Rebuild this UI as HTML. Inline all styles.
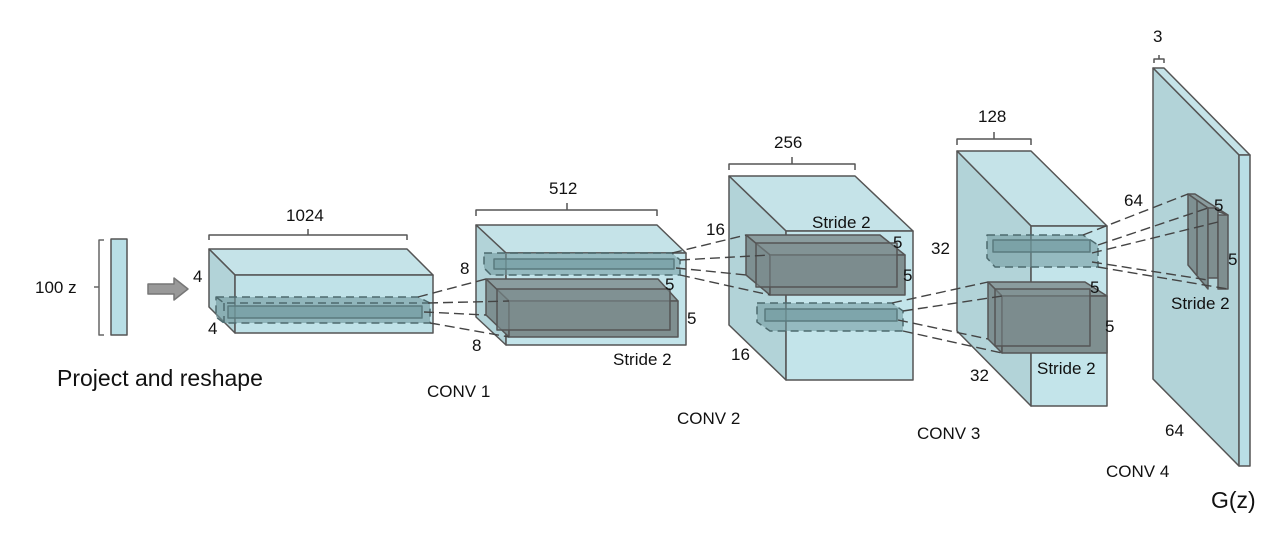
<!DOCTYPE html>
<html><head><meta charset="utf-8"><style>
html,body{margin:0;padding:0;background:#fff;width:1280px;height:551px;overflow:hidden}
svg{display:block}
text{font-family:"Liberation Sans",Arial,sans-serif;fill:#111}
</style></head><body>
<svg width="1280" height="551" viewBox="0 0 1280 551" xmlns="http://www.w3.org/2000/svg">
<g stroke="#555" stroke-width="1.5" stroke-linejoin="round">
<rect x="111" y="239" width="16" height="96" fill="#b9dfe6"/>
<path d="M104,240 h-5 v95 h5 M99,287 h-5" fill="none" stroke="#666"/>
<polygon points="148,284 174,284 174,278 188,289 174,300 174,294 148,294" fill="#999" stroke="#777"/>

<!-- Block 1 -->
<polygon points="209,249 407,249 433,275 235,275" fill="#c5e3e8"/>
<polygon points="209,249 235,275 235,333 209,307" fill="#b2d3d8"/>
<rect x="235" y="275" width="198" height="58" fill="#b9dfe6" fill-opacity="0.9"/>
<g fill="#6f979d" fill-opacity="0.6" stroke="#4d6a6e" stroke-dasharray="8,5">
<polygon points="216,297 418,297 430,303 430,323 224,323 216,317"/>
</g>
<rect x="228" y="306" width="194" height="12" fill="#6f979d" fill-opacity="0.6" stroke="#5a7a7e"/>
<path d="M216,297 l8,6 h206 M224,303 v20" fill="none" stroke="#4d6a6e" stroke-dasharray="8,5"/>
<path d="M209,240 v-5 h198 v5 M308,235 v-6" fill="none" stroke="#555"/>

<!-- Block 2 -->
<polygon points="476,225 657,225 686,253 506,253" fill="#c5e3e8"/>
<polygon points="476,225 506,253 506,345 476,317" fill="#b2d3d8"/>
<rect x="506" y="253" width="180" height="92" fill="#b9dfe6" fill-opacity="0.85"/>
<path d="M476,216 v-6 h181 v6 M567,210 v-7" fill="none"/>
<g stroke="#4d6a6e" stroke-dasharray="8,5" fill="#6f979d" fill-opacity="0.55">
<polygon points="484,253 672,253 680,260 680,275 491,275 484,268"/>
</g>
<rect x="494" y="259" width="180" height="10" fill="#6f979d" fill-opacity="0.6" stroke="#5a7a7e"/>
<polygon points="486,279 658,279 678,301 509,301" fill="#8a9c9e"/>
<polygon points="486,279 509,301 509,337 486,315" fill="#7e9092"/>
<rect x="509" y="301" width="169" height="36" fill="#7f8f90"/>
<rect x="497" y="289" width="173" height="41" fill="#798a8c" fill-opacity="0.6"/>

<!-- Block 3 -->
<polygon points="729,176 855,176 913,231 786,231" fill="#c5e3e8"/>
<polygon points="729,176 786,231 786,380 729,325" fill="#b2d3d8"/>
<rect x="786" y="231" width="127" height="149" fill="#b9dfe6" fill-opacity="0.85"/>
<path d="M729,170 v-6 h126 v6 M792,164 v-7" fill="none"/>
<polygon points="746,235 880,235 905,255 770,255" fill="#8a9c9e"/>
<polygon points="746,235 770,255 770,295 746,275" fill="#7e9092"/>
<rect x="770" y="255" width="135" height="40" fill="#7f8f90"/>
<rect x="756" y="243" width="141" height="44" fill="#798a8c" fill-opacity="0.5"/>
<g stroke="#4d6a6e" stroke-dasharray="8,5" fill="#6f979d" fill-opacity="0.55">
<polygon points="757,303 892,303 903,311 903,331 770,331 757,322"/>
</g>
<rect x="765" y="309" width="132" height="12" fill="#6f979d" fill-opacity="0.6" stroke="#5a7a7e"/>

<!-- Block 4 -->
<polygon points="957,151 1031,151 1107,226 1031,226" fill="#c5e3e8"/>
<polygon points="957,151 1031,226 1031,406 957,331" fill="#b2d3d8"/>
<rect x="1031" y="226" width="76" height="180" fill="#b9dfe6" fill-opacity="0.85"/>
<path d="M957,145 v-6 h74 v6 M994,139 v-7" fill="none"/>
<g stroke="#4d6a6e" stroke-dasharray="8,5" fill="#6f979d" fill-opacity="0.55">
<polygon points="987,235 1083,235 1098,245 1098,267 995,267 987,258"/>
</g>
<rect x="993" y="240" width="97" height="12" fill="#6f979d" fill-opacity="0.6" stroke="#5a7a7e"/>
<polygon points="988,282 1085,282 1107,296 1002,296" fill="#8a9c9e"/>
<polygon points="988,282 1002,296 1002,353 988,339" fill="#7e9092"/>
<rect x="1002" y="296" width="105" height="57" fill="#7f8f90"/>
<rect x="995" y="289" width="95" height="57" fill="#798a8c" fill-opacity="0.5"/>

<!-- Block 5 plane -->
<polygon points="1153,68 1164,68 1250,155 1239,155" fill="#c5e3e8"/>
<polygon points="1153,68 1239,155 1239,466 1153,379" fill="#b2d3d8"/>
<rect x="1239" y="155" width="11" height="311" fill="#b9dfe6"/>
<path d="M1154,63 v-4 h10 v4 M1159,59 v-4" fill="none"/>
<polygon points="1188,194 1195,194 1228,215 1208,208" fill="#8a9c9e"/>
<polygon points="1188,194 1208,208 1208,289 1188,265" fill="#7e9092"/>
<rect x="1208" y="208" width="10" height="70" fill="#7f8f90"/>
<rect x="1218" y="215" width="10" height="74" fill="#7f8f90"/>
<line x1="1197" y1="200" x2="1197" y2="275"/>

<g stroke="#444" stroke-width="1.4" stroke-dasharray="10,5" fill="none">
<path d="M418,297 L486,279 M428,303 L509,301 M424,312 L486,315 M430,323 L509,337"/>
<path d="M672,253 L746,235 M680,260 L770,255 M676,268 L746,275 M680,275 L770,295"/>
<path d="M892,303 L988,282 M903,311 L1002,296 M898,320 L988,339 M903,331 L1002,353"/>
<path d="M1083,235 L1188,194 M1098,245 L1208,208 M1092,253 L1218,222 M1098,267 L1228,289 M1092,262 L1208,280"/>
</g>
</g>

<g font-size="17">
<text x="35" y="293">100 z</text>
<text x="193" y="282">4</text>
<text x="208" y="334">4</text>
<text x="286" y="221">1024</text>
<text x="549" y="194">512</text>
<text x="460" y="274">8</text>
<text x="472" y="351">8</text>
<text x="665" y="290">5</text>
<text x="687" y="324">5</text>
<text x="613" y="365">Stride 2</text>
<text x="774" y="148">256</text>
<text x="706" y="235">16</text>
<text x="731" y="360">16</text>
<text x="812" y="228">Stride 2</text>
<text x="893" y="248">5</text>
<text x="903" y="281">5</text>
<text x="978" y="122">128</text>
<text x="931" y="254">32</text>
<text x="970" y="381">32</text>
<text x="1090" y="293">5</text>
<text x="1105" y="332">5</text>
<text x="1037" y="374">Stride 2</text>
<text x="1153" y="42">3</text>
<text x="1124" y="206">64</text>
<text x="1214" y="211">5</text>
<text x="1228" y="265">5</text>
<text x="1171" y="309">Stride 2</text>
<text x="1165" y="436">64</text>
<text x="427" y="397">CONV 1</text>
<text x="677" y="424">CONV 2</text>
<text x="917" y="439">CONV 3</text>
<text x="1106" y="477">CONV 4</text>
</g>
<text x="57" y="386" font-size="23">Project and reshape</text>
<text x="1211" y="508" font-size="23">G(z)</text>
</svg>
</body></html>
